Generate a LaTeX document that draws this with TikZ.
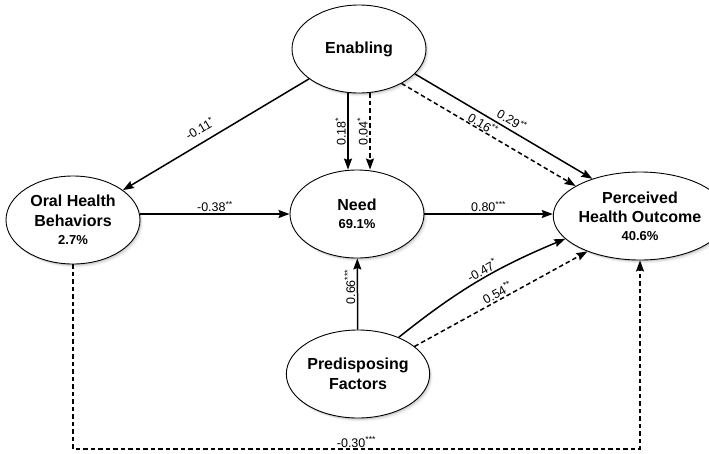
\documentclass[tikz,border=0pt]{standalone}
\usepackage{fontspec}
\setmainfont{Liberation Sans}
\usetikzlibrary{shapes.geometric,arrows.meta,shadows}
\begin{document}
\begin{tikzpicture}[x=1pt,y=-1pt,
  lat/.style={ellipse, draw, line width=0.9pt, fill=white,
    minimum width=134pt, minimum height=88pt, inner sep=0pt, align=center,
    font=\fontsize{16}{19.5}\selectfont\bfseries,
    drop shadow={shadow xshift=3pt,shadow yshift=-3.5pt,opacity=.08},
    drop shadow={shadow xshift=2pt,shadow yshift=-2.5pt,opacity=.12},
    drop shadow={shadow xshift=1pt,shadow yshift=-1.5pt,opacity=.2}},
  arr/.style={line width=1.5pt, -{Stealth[length=11pt,width=8pt,inset=1.5pt]}},
  dsh/.style={arr, dash pattern=on 4.5pt off 3pt},
  lbl/.style={font=\fontsize{12.5}{14}\selectfont, inner sep=1.5pt}]
\useasboundingbox (0,0) rectangle (709,453);
\fill[white] (0,0) rectangle (709,453);

\node[lat] (en)   at (359,49)  {Enabling};
\node[lat] (ohb)  at (73,220)  {Oral Health\\Behaviors\\[-1pt]{\fontsize{13}{15}\selectfont 2.7\%}};
\node[lat] (need) at (357,214) {Need\\[-1pt]{\fontsize{13}{15}\selectfont 69.1\%}};
\node[lat] (pho)  at (640,216) {Perceived\\Health Outcome\\[-2pt]{\fontsize{13}{15}\selectfont 40.6\%}};
\node[lat] (pre)  at (358,374) {Predisposing\\Factors};

\coordinate (bot) at (0,449);

% Enabling -> OHB
\draw[arr] (en) -- (ohb) node[lbl, sloped, above=6pt, pos=0.55] {-0.11\textsuperscript{*}};
% Enabling -> Need
\draw[arr] ([xshift=-11pt]en.south) -- ([xshift=-9pt]need.north)
  node[lbl, midway, rotate=90, anchor=south] {0.18\textsuperscript{*}};
\draw[dsh] ([xshift=11pt]en.south) -- ([xshift=13pt]need.north)
  node[lbl, midway, rotate=90, anchor=south] {0.04\textsuperscript{*}};
% Enabling -> PHO
\draw[arr] (en.-24) -- (pho.142)
  node[lbl, sloped, above=2pt, pos=0.52] {0.29\textsuperscript{**}};
\draw[dsh] (en.-39) -- (pho.155)
  node[lbl, sloped, above, pos=0.45, inner sep=0.5pt] {0.16\textsuperscript{**}};
% OHB -> Need
\draw[arr] (need.west -| ohb.east) -- (need.west)
  node[lbl, above, midway] {-0.38\textsuperscript{**}};
% Need -> PHO
\draw[arr] (need.east) -- (need.east -| pho.west)
  node[lbl, above, midway] {0.80\textsuperscript{***}};
% Predisposing -> Need
\draw[arr] (pre) -- (need)
  node[lbl, pos=0.6, rotate=90, anchor=south] {0.66\textsuperscript{***}};
% Predisposing -> PHO
\draw[arr] (pre.42) to[bend left=8]
  node[lbl, sloped, above, pos=0.55] {-0.47\textsuperscript{*}} (pho.197);
\draw[dsh] (pre.26) -- (pho.214)
  node[lbl, sloped, above, pos=0.5] {0.54\textsuperscript{**}};
% OHB -> PHO
\draw[dsh] (ohb.south) -- (ohb.south |- bot) -- (pho.south |- bot)
  node[lbl, above, pos=0.5, inner sep=1pt] {-0.30\textsuperscript{***}} -- (pho.south);
\end{tikzpicture}
\end{document}
